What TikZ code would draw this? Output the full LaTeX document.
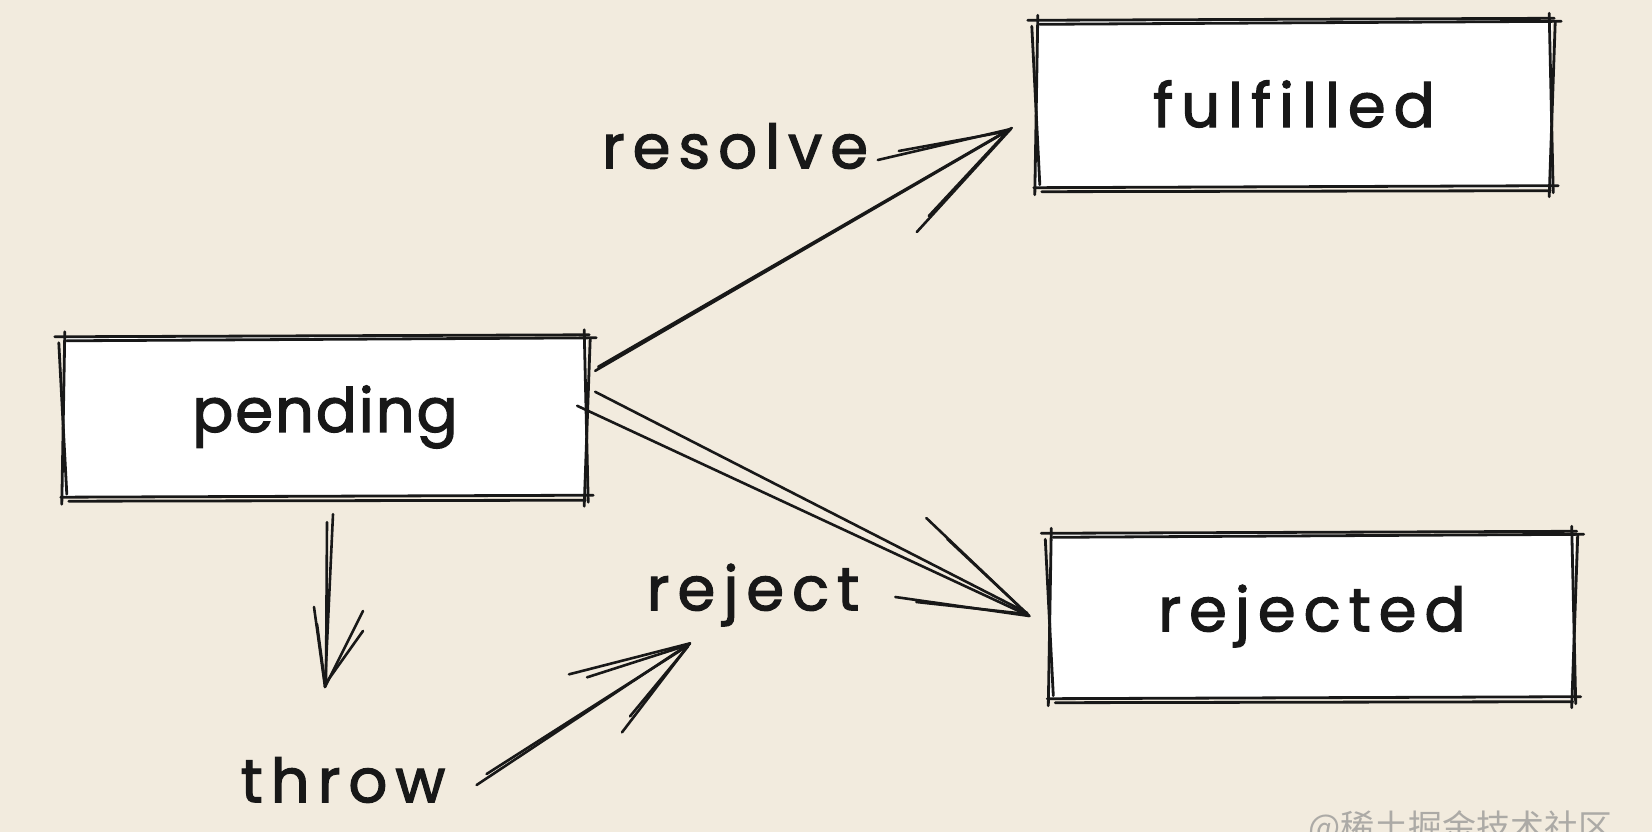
\documentclass[tikz,border=0pt]{standalone}
\usepackage{fontspec}
\usetikzlibrary{calc}
\newfontfamily\handfont{Poppins}[LetterSpace=13, FakeBold=2]
\newfontfamily\handtight{Poppins}[LetterSpace=3, FakeBold=2]
\newfontfamily\cjkfont{Noto Sans CJK SC}

\definecolor{paper}{RGB}{242,235,222}
\definecolor{ink}{RGB}{24,24,24}
\definecolor{markgray}{RGB}{172,170,166}

% hand-drawn looking rectangle around a named node
\newcommand\roughbox[1]{%
  \draw[rough] ($(#1.north west)+(-8,0)$) -- ($(#1.north east)+(2,-2)$);
  \draw[rough] ($(#1.north west)+(4,4)$) -- ($(#1.north east)+(9,1)$);
  \draw[rough] ($(#1.south west)+(-2,0)$) -- ($(#1.south east)+(6,-2)$);
  \draw[rough] ($(#1.south west)+(6,4)$) -- ($(#1.south east)+(-2,3)$);
  \draw[rough] ($(#1.north west)+(2,-5)$) -- ($(#1.south west)+(-1,7)$);
  \draw[rough] ($(#1.north west)+(-4,6)$) -- ($(#1.south west)+(4,-3)$);
  \draw[rough] ($(#1.north east)+(-3,-7)$) -- ($(#1.south east)+(1,5)$);
  \draw[rough] ($(#1.north east)+(3,2)$) -- ($(#1.south east)+(-3,9)$);
}

\begin{document}
\begin{tikzpicture}[x=1pt,y=-1pt,
  rough/.style={draw=ink, line width=2.8pt, line cap=round},
  inkline/.style={draw=ink, line width=2.6pt, line cap=round},
  handtext/.style={inner sep=0pt, text=ink, font=\handfont\fontsize{61}{70}\selectfont},
  statebox/.style={handtext, fill=white},
  label/.style={handtext}]

\clip (0,0) rectangle (1652,832);
\fill[paper] (0,0) rectangle (1652,832);

% states
\node[statebox, minimum width=524pt, minimum height=160pt,
      font=\handtight\fontsize{61}{70}\selectfont] (pending) at (325,417) {pending};
\node[statebox, minimum width=516pt, minimum height=167pt] (fulfilled) at (1294,104) {fulfilled};
\node[statebox, minimum width=525pt, minimum height=165pt] (rejected) at (1312,616) {rejected};
\roughbox{pending}
\roughbox{fulfilled}
\roughbox{rejected}

% transition labels
\node[label] (resolve) at (735,146) {resolve};
\node[label] (reject) at (753,595) {reject};
\node[label] (throw) at (343,780) {throw};

% pending -> fulfilled
\coordinate (tipA) at ($(fulfilled.west)+(-25,25)$);
\draw[inkline] ($(pending.north east)+(8,34)$) -- (tipA);
\draw[inkline] ($(pending.north east)+(11,30)$) -- ($(tipA)+(1,-1)$);
\draw[inkline] (tipA) -- ++(-133,31);
\draw[inkline] ($(tipA)+(-2,2)$) -- ++(-110,20);
\draw[inkline] (tipA) -- ++(-94,103);
\draw[inkline] ($(tipA)+(-2,1)$) -- ++(-80,86);

% pending -> rejected
\coordinate (tipB) at ($(rejected.west)+(-20,0)$);
\draw[inkline] ($(pending.north east)+(-10,69)$) -- (tipB);
\draw[inkline] ($(pending.north east)+(8,55)$) -- ($(tipB)+(-2,-3)$);
\draw[inkline] (tipB) -- ++(-103,-98);
\draw[inkline] ($(tipB)+(-2,-2)$) -- ++(-80,-75);
\draw[inkline] (tipB) -- ++(-134,-19);
\draw[inkline] ($(tipB)+(-3,-2)$) -- ++(-110,-12);

% pending -> throw
\coordinate (tipC) at ($(throw.north)+(-18,-70)$);
\draw[inkline] ($(pending.south)+(8,17)$) -- (tipC);
\draw[inkline] ($(pending.south)+(2,25)$) -- ($(tipC)+(1,-4)$);
\draw[inkline] (tipC) -- ++(-11,-80);
\draw[inkline] ($(tipC)+(0,-3)$) -- ++(-8,-60);
\draw[inkline] (tipC) -- ++(38,-76);
\draw[inkline] ($(tipC)+(1,-4)$) -- ++(37,-52);

% throw -> reject
\coordinate (tipD) at ($(reject.south)+(-63,17)$);
\draw[inkline] ($(throw.east)+(31,5)$) -- (tipD);
\draw[inkline] ($(throw.east)+(41,-6)$) -- ($(tipD)+(-3,3)$);
\draw[inkline] (tipD) -- ++(-121,31);
\draw[inkline] ($(tipD)+(-3,2)$) -- ++(-100,32);
\draw[inkline] (tipD) -- ++(-68,89);
\draw[inkline] ($(tipD)+(-2,3)$) -- ++(-58,70);

% site mark
\node[anchor=north west, inner sep=0pt, text=markgray, font=\cjkfont\fontsize{34}{40}\selectfont] (sitemark) at (1308,810) {@稀土掘金技术社区};
\end{tikzpicture}
\end{document}
